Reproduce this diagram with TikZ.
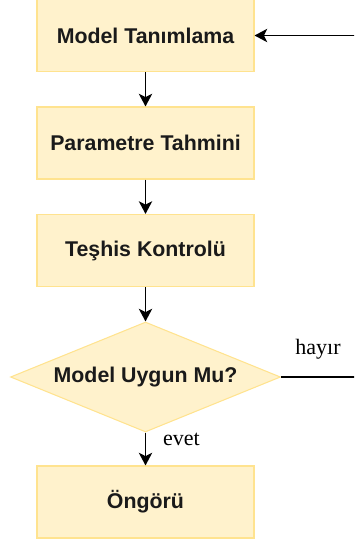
\documentclass[tikz,border=0pt]{standalone}
\usepackage{fontspec}
\setmainfont{Liberation Serif}
\setsansfont{Liberation Sans}
\usetikzlibrary{arrows.meta,shapes.geometric}

\definecolor{boxfill}{HTML}{FFF2CC}
\definecolor{boxline}{HTML}{FFE38F}
\definecolor{yazi}{HTML}{1A1A1A}

\begin{document}
\begin{tikzpicture}[x=0.75pt,y=-0.75pt,
	adim/.style={rectangle,draw=boxline,fill=boxfill,line width=0.8pt,text=yazi,minimum width=162.75pt,minimum height=54pt,font=\sffamily\bfseries\fontsize{16}{18}\selectfont},
	karar/.style={diamond,aspect=2.45,draw=boxline,fill=boxfill,line width=0.8pt,text=yazi,inner sep=0pt,minimum width=202.5pt,minimum height=82.5pt,font=\sffamily\bfseries\fontsize{16}{18}\selectfont},
	ok/.style={line width=1.1pt,-{Stealth[length=9.5pt,width=10pt,inset=2.5pt]}},
	etiket/.style={font=\fontsize{16.5}{18}\selectfont}]
			\clip (0,0) rectangle (354,543);
			
			\node[adim] (tanim) at (145.5,35.5) {Model Tanımlama};
			\node[adim] (param) at (145.5,143) {Parametre Tahmini};
			\node[adim] (teshis) at (145.5,250.5) {Teşhis Kontrolü};
			\node[karar] (uygun) at (145.5,377) {Model Uygun Mu?};
			\node[adim] (ongoru) at (145.5,502) {Öngörü};
			
			\draw[ok] (tanim) -- (param);
			\draw[ok] (param) -- (teshis);
			\draw[ok] (teshis) -- (uygun);
			\draw[ok] (uygun) -- (ongoru);
			
			% geri donus, sayfanin sagindan
			\coordinate (don) at (362,377);
			\draw[ok] (uygun.east) -- (don) |- (tanim.east);
			
			\node[etiket] (hayir) at (318,349) {hayır};
			\node[etiket] (evet) at (181.5,439) {evet};
\end{tikzpicture}
\end{document}
